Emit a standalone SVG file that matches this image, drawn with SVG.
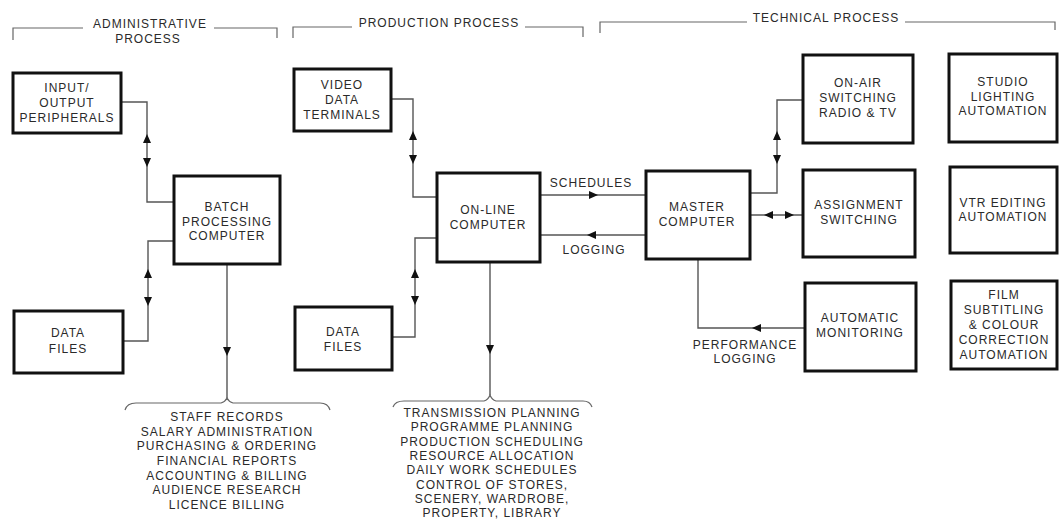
<svg xmlns="http://www.w3.org/2000/svg" width="1060" height="523" viewBox="0 0 1060 523">
<style>
text{font-family:"Liberation Sans",Arial,sans-serif;font-size:12px;letter-spacing:1px;fill:#2a2a2a;text-anchor:middle}
.box{fill:#fff;stroke:#111;stroke-width:3}
.ln{fill:none;stroke:#555;stroke-width:1.4}
.br{fill:none;stroke:#666;stroke-width:1.2}
.ah{fill:#111}
</style>
<rect width="1060" height="523" fill="#fff"/>
<g id="headers">
<path class="br" d="M13,40 V28 H83 M214,28 H277 V38"/>
<text x="150" y="28">ADMINISTRATIVE</text>
<text x="148" y="43">PROCESS</text>
<path class="br" d="M293,38 V27 H352 M525,27 H583 V37"/>
<text x="439" y="27">PRODUCTION PROCESS</text>
<path class="br" d="M600,33 V22 H747 M905,22 H1055 V30"/>
<text x="826" y="22">TECHNICAL PROCESS</text>
</g>
<g id="connectors">
<path class="ln" d="M121,102 H147 V202 H174"/>
<path class="ah" d="M147,134 L143,143 H151 Z M147,167 L143,158 H151 Z"/>
<path class="ln" d="M174,241 H148 V341 H123"/>
<path class="ah" d="M148,269 L144,278 H152 Z M148,306 L144,297 H152 Z"/>
<path class="ln" d="M227,264 V398"/>
<path class="ah" d="M227,356 L223,347 H231 Z"/>
<path class="br" d="M125,410 Q127,403 136,403 H221 Q225,402 227,398 Q229,402 233,403 H320 Q328,403 330,410"/>
<path class="ln" d="M391,99 H413 V197 H437"/>
<path class="ah" d="M413,131 L409,140 H417 Z M413,164 L409,155 H417 Z"/>
<path class="ln" d="M437,238 H415 V337 H392"/>
<path class="ah" d="M415,269 L411,278 H419 Z M415,305 L411,296 H419 Z"/>
<path class="ln" d="M490,262 V395"/>
<path class="ah" d="M490,354 L486,345 H494 Z"/>
<path class="br" d="M393,407 Q395,401 404,401 H484 Q488,400 490,395 Q492,400 496,401 H583 Q590,401 592,407"/>
<path class="ln" d="M540,195 H646"/>
<path class="ah" d="M598,195 L589,191 V199 Z"/>
<path class="ln" d="M540,235 H646"/>
<path class="ah" d="M587,235 L596,231 V239 Z"/>
<path class="ln" d="M750,193 H777 V100 H803"/>
<path class="ah" d="M777,131 L773,140 H781 Z M777,164 L773,155 H781 Z"/>
<path class="ln" d="M750,215 H803"/>
<path class="ah" d="M764,215 L773,211 V219 Z M794,215 L785,211 V219 Z"/>
<path class="ln" d="M805,328 H698 V259"/>
<path class="ah" d="M752,328 L761,324 V332 Z"/>
</g>
<g id="labels">
<text x="591" y="187">SCHEDULES</text>
<text x="594" y="254">LOGGING</text>
<text x="745" y="349">PERFORMANCE</text>
<text x="745" y="363">LOGGING</text>
</g>
<g id="io">
<rect class="box" x="13" y="73" width="108" height="60"/>
<text x="67" y="92">INPUT/</text>
<text x="67" y="107">OUTPUT</text>
<text x="67" y="122">PERIPHERALS</text>
</g>
<g id="batch">
<rect class="box" x="174" y="176" width="106" height="88"/>
<text x="227" y="211">BATCH</text>
<text x="227" y="226">PROCESSING</text>
<text x="227" y="240">COMPUTER</text>
</g>
<g id="datafiles1">
<rect class="box" x="14" y="311" width="109" height="62"/>
<text x="68" y="337">DATA</text>
<text x="68" y="353">FILES</text>
</g>
<g id="videoterm">
<rect class="box" x="294" y="69" width="97" height="62"/>
<text x="342" y="89">VIDEO</text>
<text x="342" y="104">DATA</text>
<text x="342" y="119">TERMINALS</text>
</g>
<g id="online">
<rect class="box" x="437" y="173" width="103" height="89"/>
<text x="488" y="214">ON-LINE</text>
<text x="488" y="229">COMPUTER</text>
</g>
<g id="datafiles2">
<rect class="box" x="295" y="307" width="97" height="63"/>
<text x="343" y="336">DATA</text>
<text x="343" y="351">FILES</text>
</g>
<g id="master">
<rect class="box" x="646" y="171" width="104" height="88"/>
<text x="697" y="211">MASTER</text>
<text x="697" y="226">COMPUTER</text>
</g>
<g id="onair">
<rect class="box" x="803" y="55" width="110" height="88"/>
<text x="858" y="87">ON-AIR</text>
<text x="858" y="102">SWITCHING</text>
<text x="858" y="117">RADIO &amp; TV</text>
</g>
<g id="studio">
<rect class="box" x="949" y="54" width="108" height="88"/>
<text x="1003" y="86">STUDIO</text>
<text x="1003" y="101">LIGHTING</text>
<text x="1003" y="115">AUTOMATION</text>
</g>
<g id="assignment">
<rect class="box" x="803" y="170" width="112" height="87"/>
<text x="859" y="209">ASSIGNMENT</text>
<text x="859" y="224">SWITCHING</text>
</g>
<g id="vtr">
<rect class="box" x="950" y="167" width="107" height="86"/>
<text x="1003" y="207">VTR EDITING</text>
<text x="1003" y="221">AUTOMATION</text>
</g>
<g id="monitoring">
<rect class="box" x="805" y="283" width="111" height="88"/>
<text x="860" y="322">AUTOMATIC</text>
<text x="860" y="337">MONITORING</text>
</g>
<g id="film">
<rect class="box" x="951" y="281" width="106" height="88"/>
<text x="1004" y="299">FILM</text>
<text x="1004" y="314">SUBTITLING</text>
<text x="1004" y="329">&amp; COLOUR</text>
<text x="1004" y="344">CORRECTION</text>
<text x="1004" y="359">AUTOMATION</text>
</g>
<g id="adminlist">
<text x="227" y="421">STAFF RECORDS</text>
<text x="227" y="436">SALARY ADMINISTRATION</text>
<text x="227" y="450">PURCHASING &amp; ORDERING</text>
<text x="227" y="465">FINANCIAL REPORTS</text>
<text x="227" y="480">ACCOUNTING &amp; BILLING</text>
<text x="227" y="494">AUDIENCE RESEARCH</text>
<text x="227" y="509">LICENCE BILLING</text>
</g>
<g id="prodlist">
<text x="492" y="417">TRANSMISSION PLANNING</text>
<text x="492" y="431">PROGRAMME PLANNING</text>
<text x="492" y="446">PRODUCTION SCHEDULING</text>
<text x="492" y="460">RESOURCE ALLOCATION</text>
<text x="492" y="474">DAILY WORK SCHEDULES</text>
<text x="492" y="489">CONTROL OF STORES,</text>
<text x="492" y="503">SCENERY, WARDROBE,</text>
<text x="492" y="517">PROPERTY, LIBRARY</text>
</g>
</svg>
